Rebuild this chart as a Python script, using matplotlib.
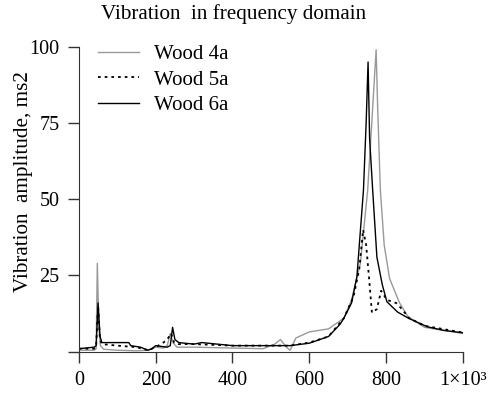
import matplotlib
matplotlib.use('Agg')
import matplotlib.pyplot as plt

# Wood 4a (grey)
x_4a = [0, 40, 45, 48, 52, 56, 65, 100, 150, 180, 200, 220, 230, 238, 245, 255, 300, 400,
        480, 510, 525, 540, 550, 565, 600, 650, 690, 710, 733, 752, 765, 774, 778, 785, 795,
        809, 835, 857, 900, 950, 1000]
y_4a = [0.5, 0.5, 1, 29, 8, 2, 0.8, 0.5, 0.3, 0.5, 1.5, 1.2, 2, 6, 3, 1.5, 1.5, 1.2,
        1, 2.5, 4, 1.5, 0.5, 4.5, 6.5, 7.5, 11, 17, 29, 53, 80, 99, 80, 53, 35,
        24, 16, 11.5, 8, 7, 6]

# Wood 5a (dotted)
x_5a = [0, 40, 45, 50, 55, 60, 100, 150, 180, 200, 220, 230, 240, 248, 260, 300, 400, 500,
        550, 600, 650, 690, 715, 730, 740, 748, 755, 763, 776, 787, 802, 826, 841, 860, 900, 1000]
y_5a = [1, 1, 2, 15, 4, 2.5, 2, 1.5, 0.5, 1.5, 3, 4, 6, 3, 2.5, 2.5, 2, 2,
        2, 3, 5, 11, 18, 27, 40, 35, 25, 12.8, 14, 20, 17, 16, 14, 11, 8.5, 6.3]

# Wood 6a (black)
x_6a = [0, 40, 45, 50, 55, 60, 100, 130, 135, 160, 180, 190, 200, 230, 238, 244, 250, 260,
        300, 320, 400, 500, 550, 600, 650, 680, 690, 710, 724, 741, 748, 753, 757, 765, 776,
        790, 802, 830, 858, 907, 950, 1000]
y_6a = [1, 1.5, 2, 16, 5, 3, 3, 3, 2, 1.5, 0.5, 1, 2, 1.5, 2, 8, 4, 3,
        2.5, 3, 2, 2, 2, 2.8, 5, 9, 11, 16, 24.7, 53, 75, 95, 70, 53, 31,
        22, 16.4, 13, 11, 8.2, 7, 6.2]

xticks = [0, 200, 400, 600, 800, 1000]
xtick_labels = ['0', '200', '400', '600', '800', '1×10³']
yticks = [25, 50, 75, 100]

plt.rcParams['font.family'] = ['Liberation Serif', 'DejaVu Serif']

fig = plt.figure(figsize=(4.93, 3.93), dpi=100)
ax = fig.add_axes([0.160, 0.105, 0.779, 0.776])

ax.plot(x_4a, y_4a, color='#999999', lw=1.0, label='Wood 4a')
ax.plot(x_5a, y_5a, color='black', lw=1.3, linestyle=(0, (1.5, 2.2)), label='Wood 5a')
ax.plot(x_6a, y_6a, color='black', lw=1.0, label='Wood 6a')

ax.set_xlim(0, 1000)
ax.set_ylim(0, 100)
ax.set_xticks(xticks)
ax.set_xticklabels(xtick_labels)
ax.set_yticks([0] + yticks)
ax.set_yticklabels([''] + [str(v) for v in yticks])
ax.tick_params(labelsize=14.5, length=8, width=1, color='#333333', pad=6)

for s in ['top', 'right']:
    ax.spines[s].set_visible(False)
for s in ['left', 'bottom']:
    ax.spines[s].set_color('#333333')

ax.legend(loc='upper left', bbox_to_anchor=(0.0, 1.068), frameon=False, fontsize=15,
          handlelength=2.0, labelspacing=0.28, handletextpad=0.7)

fig.text(0.473, 0.965, 'Vibration  in frequency domain', ha='center', va='center', fontsize=15.2)
fig.text(0.048, 0.537, 'Vibration  amplitude, ms2', ha='center', va='center',
         rotation=90, fontsize=15.2)

fig.savefig('out.png', dpi=100)
